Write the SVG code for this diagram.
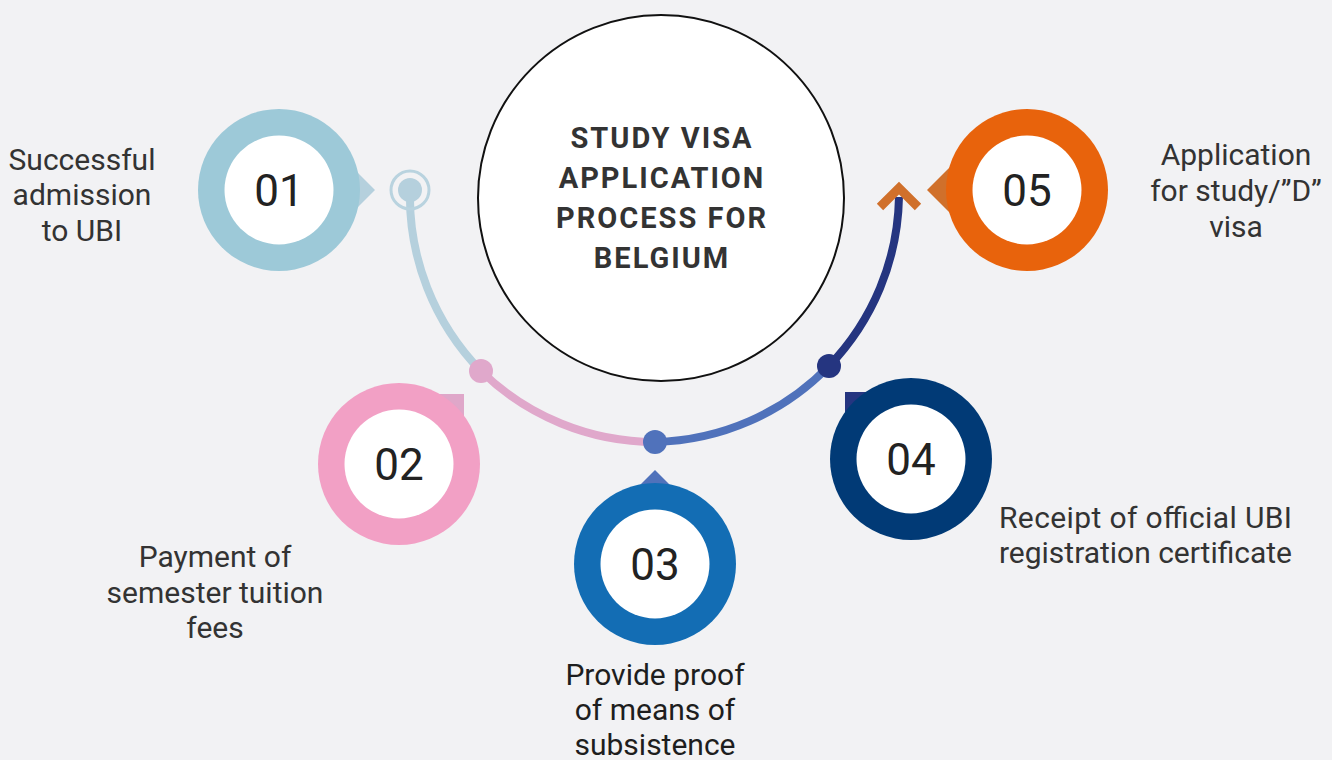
<svg xmlns="http://www.w3.org/2000/svg" width="1332" height="760" viewBox="0 0 1332 760">
<style>
.lbl{font-family:Roboto,"Liberation Sans",sans-serif;font-size:30px;fill:#333333;text-anchor:middle}
.num{font-family:Roboto,"Liberation Sans",sans-serif;font-size:44px;fill:#222222;text-anchor:middle}
.title{font-family:Roboto,"Liberation Sans",sans-serif;font-size:29px;font-weight:bold;fill:#333333;text-anchor:middle;letter-spacing:2px}
.seg{fill:none;stroke-width:8;stroke-linecap:butt}
</style>
<rect x="0" y="0" width="1332" height="760" fill="#f2f2f4"/>
<g id="center">
<circle cx="661" cy="198" r="183" fill="#ffffff" stroke="#111111" stroke-width="2"/>
<text class="title" x="662" y="148">STUDY VISA</text>
<text class="title" x="662" y="188">APPLICATION</text>
<text class="title" x="662" y="228">PROCESS FOR</text>
<text class="title" x="662" y="268">BELGIUM</text>
</g>
<g id="connectors">
<path class="seg" stroke="#b5d0dd" d="M410,190 A250,250 0 0,0 481,371"/>
<path class="seg" stroke="#e0a8cb" d="M481,371 A250,250 0 0,0 655,442"/>
<path class="seg" stroke="#5072bb" d="M655,442 A250,250 0 0,0 829,366"/>
<path class="seg" stroke="#253580" d="M829,366 A250,250 0 0,0 899,197"/>
<circle cx="410" cy="190" r="19" fill="none" stroke="#b9d3df" stroke-width="3"/>
<circle cx="410" cy="190" r="12" fill="#b5d0dd"/>
<circle cx="481" cy="371" r="12" fill="#e0a8cb"/>
<circle cx="655" cy="442" r="12" fill="#5072bb"/>
<circle cx="829" cy="366" r="12" fill="#253580"/>
<polyline points="880,207 899,188 918,207" fill="none" stroke="#d0702b" stroke-width="9" stroke-linejoin="miter"/>
</g>
<g id="step01">
<polygon points="375,190 350,165 350,215" fill="#b5d0dd"/>
<circle cx="279" cy="190" r="81" fill="#9dc9d8"/>
<circle cx="279" cy="190" r="54.5" fill="#ffffff"/>
<text class="num" x="279" y="206">01</text>
<text class="lbl" x="82" y="170">Successful</text>
<text class="lbl" x="82" y="205">admission</text>
<text class="lbl" x="82" y="241">to UBI</text>
</g>
<g id="step02">
<polygon points="464,394 430,394 464,428" fill="#dfa7c9"/>
<circle cx="399" cy="464" r="81" fill="#f2a0c5"/>
<circle cx="399" cy="464" r="54.5" fill="#ffffff"/>
<text class="num" x="399" y="480">02</text>
<text class="lbl" x="215" y="567">Payment of</text>
<text class="lbl" x="215" y="603">semester tuition</text>
<text class="lbl" x="215" y="638">fees</text>
</g>
<g id="step03">
<polygon points="655,470 625,500 685,500" fill="#5072bb"/>
<circle cx="655" cy="564" r="81" fill="#136db4"/>
<circle cx="655" cy="564" r="54.5" fill="#ffffff"/>
<text class="num" x="655" y="580">03</text>
<text class="lbl" x="655" y="685" style="fill:#1e1e1e">Provide proof</text>
<text class="lbl" x="655" y="720" style="fill:#1e1e1e">of means of</text>
<text class="lbl" x="655" y="755" style="fill:#1e1e1e">subsistence</text>
</g>
<g id="step04">
<polygon points="845,392 880,392 845,427" fill="#253580"/>
<circle cx="911" cy="459" r="81" fill="#013a76"/>
<circle cx="911" cy="459" r="54.5" fill="#ffffff"/>
<text class="num" x="911" y="475">04</text>
<text class="lbl" x="999" y="528" style="text-anchor:start" textLength="293" lengthAdjust="spacing">Receipt of official UBI</text>
<text class="lbl" x="999" y="563" style="text-anchor:start" textLength="293" lengthAdjust="spacing">registration certificate</text>
</g>
<g id="step05">
<polygon points="927,190 956,161 956,219" fill="#d0702b"/>
<circle cx="1027" cy="190" r="81" fill="#e8630c"/>
<circle cx="1027" cy="190" r="54.5" fill="#ffffff"/>
<text class="num" x="1027" y="206">05</text>
<text class="lbl" x="1236" y="165">Application</text>
<text class="lbl" x="1236" y="201">for study/”D”</text>
<text class="lbl" x="1236" y="237">visa</text>
</g>
</svg>
